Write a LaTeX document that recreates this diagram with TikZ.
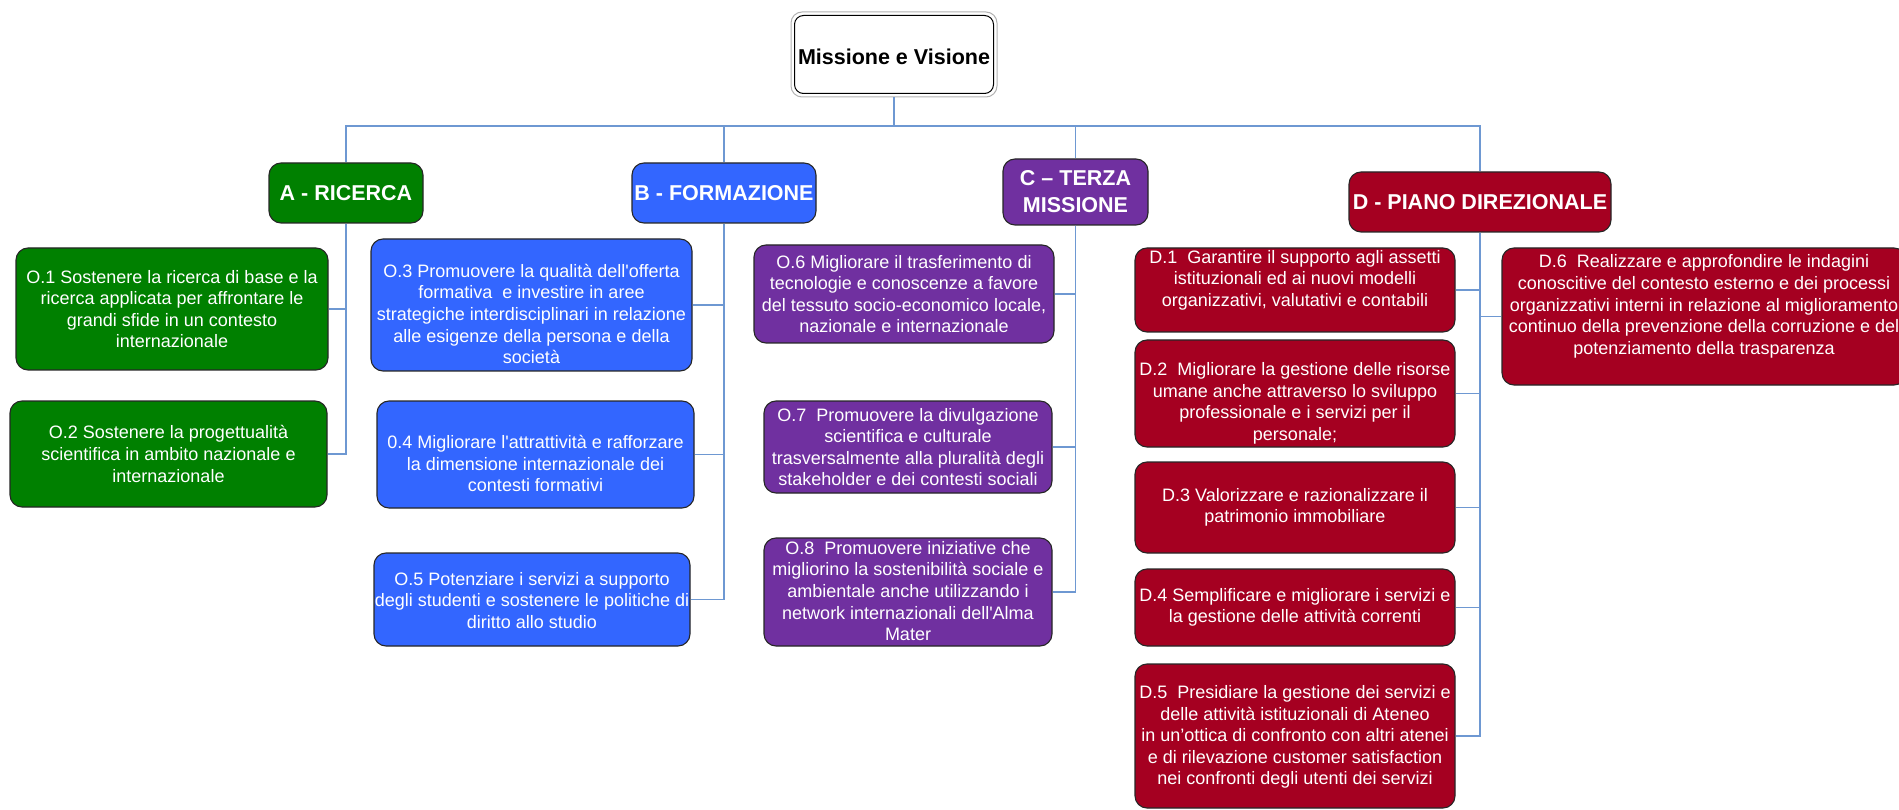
\documentclass[tikz,border=0pt]{standalone}
\usepackage{fontspec}
\setmainfont{Liberation Sans}
\usetikzlibrary{calc}
\definecolor{cgreen}{RGB}{0,128,0}
\definecolor{cblue}{RGB}{51,102,255}
\definecolor{cpurple}{RGB}{112,48,160}
\definecolor{cred}{RGB}{165,0,33}
\definecolor{connblue}{RGB}{110,152,210}
\newcommand\mkbox[8]{%
  \node[box, fill=#6, minimum width=#4pt, minimum height=#5pt] (#1) at (#2,#3) {};
  \node[txt] (#1t) at (#2,#3#7) {#8};}
\newcommand\sq{\textquotesingle}
\begin{document}
\begin{tikzpicture}[x=1pt,y=-1pt,
  box/.style={draw=black!85, line width=1.1pt, rounded corners=12pt, inner sep=0pt},
  txt/.style={text=white, align=center, inner sep=0pt, font=\fontsize{18}{21.6}\selectfont},
  ttl/.style={text=white, align=center, inner sep=0pt, font=\fontsize{21.5}{27}\selectfont\bfseries},
  conn/.style={draw=connblue, line width=1.3pt}]
\useasboundingbox (0,0) rectangle (1899,810);
% root
\node[draw=gray!60, line width=1pt, fill=white, rounded corners=11pt, minimum width=206pt, minimum height=85pt, inner sep=0pt] (m) at (894,54.5) {};
\draw[black, line width=1pt, rounded corners=9pt] ([shift={(4pt,-4pt)}]m.north west) rectangle ([shift={(-4pt,4pt)}]m.south east);
\node[inner sep=0pt, font=\fontsize{21.5}{26}\selectfont\bfseries] (mt) at (894,57) {Missione e Visione};
% headings
\node[box, fill=cgreen, minimum width=154pt, minimum height=60pt] (a) at (346,193) {};
\node[ttl] (at) at (346,193) {A - RICERCA};
\node[box, fill=cblue, minimum width=184pt, minimum height=60pt] (b) at (724,193) {};
\node[ttl] (bt) at (724,193) {B - FORMAZIONE};
\node[box, fill=cpurple, minimum width=145pt, minimum height=66pt] (c) at (1075.5,192) {};
\node[ttl] (ct) at (1075.5,192) {C – TERZA\\MISSIONE};
\node[box, fill=cred, minimum width=262pt, minimum height=60pt] (d) at (1480,202) {};
\node[ttl] (dt) at (1480,202) {D - PIANO DIREZIONALE};
% A
\mkbox{o1}{172}{309}{312}{122}{cgreen}{+0}{O.1 Sostenere la ricerca di base e la\\ricerca applicata per affrontare le\\grandi sfide in un contesto\\internazionale}
\mkbox{o2}{168.5}{454}{317}{106}{cgreen}{+0}{O.2 Sostenere la progettualità\\scientifica in ambito nazionale e\\internazionale}
% B
\mkbox{o3}{531.5}{305}{321}{132}{cblue}{+9}{O.3 Promuovere la qualità dell\sq offerta\\formativa \ e investire in aree\\strategiche interdisciplinari in relazione\\alle esigenze della persona e della\\società}
\mkbox{o4}{535.5}{454.5}{317}{107}{cblue}{+9}{0.4 Migliorare l\sq attrattività e rafforzare\\la dimensione internazionale dei\\contesti formativi}
\mkbox{o5}{532}{599.5}{316}{93}{cblue}{+1}{O.5 Potenziare i servizi a supporto\\degli studenti e sostenere le politiche di\\diritto allo studio}
% C
\mkbox{o6}{904}{294}{300}{98}{cpurple}{+0}{O.6 Migliorare il trasferimento di\\tecnologie e conoscenze a favore\\del tessuto socio-economico locale,\\nazionale e internazionale}
\mkbox{o7}{908}{447}{288}{92}{cpurple}{+0}{O.7 \ Promuovere la divulgazione\\scientifica e culturale\\trasversalmente alla pluralità degli\\stakeholder e dei contesti sociali}
\mkbox{o8}{908}{592}{288}{108}{cpurple}{-1}{O.8 \ Promuovere iniziative che\\migliorino la sostenibilità sociale e\\ambientale anche utilizzando i\\network internazionali dell\sq Alma\\Mater}
% D
\mkbox{d1}{1295}{290}{320}{84}{cred}{-10}{D.1 \ Garantire il supporto agli assetti\\istituzionali ed ai nuovi modelli\\organizzativi, valutativi e contabili}
\mkbox{d2}{1295}{393.5}{320}{107}{cred}{+10}{D.2 \ Migliorare la gestione delle risorse\\umane anche attraverso lo sviluppo\\professionale e i servizi per il\\personale;}
\mkbox{d3}{1295}{507.5}{320}{91}{cred}{+0}{D.3 Valorizzare e razionalizzare il\\patrimonio immobiliare}
\mkbox{d4}{1295}{607.5}{320}{77}{cred}{+0}{D.4 Semplificare e migliorare i servizi e\\la gestione delle attività correnti}
\mkbox{d5}{1295}{736}{320}{144}{cred}{+1}{D.5 \ Presidiare la gestione dei servizi e\\delle attività istituzionali di Ateneo\\in un’ottica di confronto con altri atenei\\e di rilevazione customer satisfaction\\nei confronti degli utenti dei servizi}
\mkbox{d6}{1704}{316.5}{404}{137}{cred}{-10}{D.6 \ Realizzare e approfondire le indagini\\conoscitive del contesto esterno e dei processi\\organizzativi interni in relazione al miglioramento\\continuo della prevenzione della corruzione e del\\potenziamento della trasparenza}
% connectors
\coordinate (bus) at (0,126);
\foreach \k in {a,b,c,d}{\draw[conn] (m.south) -- (m.south |- bus) -| (\k.north);}
\foreach \k in {o1,o2}{\draw[conn] (a.south) |- (\k.east);}
\foreach \k in {o3,o4,o5}{\draw[conn] (b.south) |- (\k.east);}
\foreach \k in {o6,o7,o8}{\draw[conn] (c.south) |- (\k.east);}
\foreach \k in {d1,d2,d3,d4,d5}{\draw[conn] (d.south) |- (\k.east);}
\draw[conn] (d.south) |- (d6.west);
\end{tikzpicture}
\end{document}
